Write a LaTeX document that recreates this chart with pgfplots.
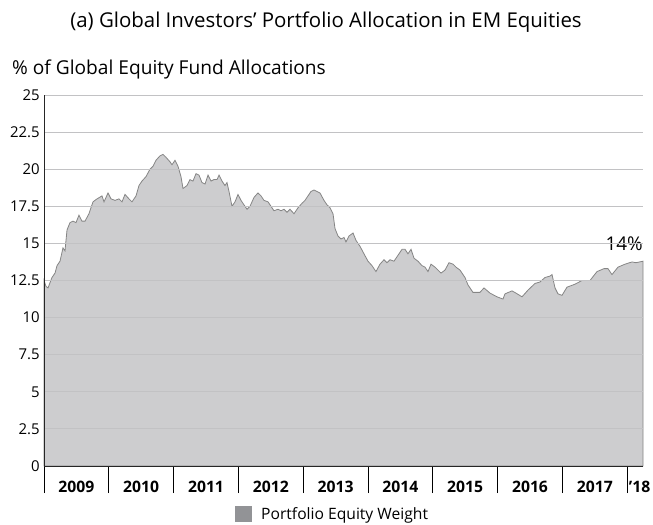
\documentclass[border=0pt]{standalone}
\usepackage{pgfplots}
\pgfplotsset{compat=1.18}
\usepackage{fontspec}
\setmainfont{Open Sans}
\definecolor{areafill}{HTML}{CDCDCF}
\definecolor{arealine}{HTML}{858585}
\definecolor{gridc}{HTML}{C2C2C4}
\definecolor{legfill}{HTML}{929396}
\begin{document}
\begin{tikzpicture}
\useasboundingbox (-44bp,-59bp) rectangle (609bp,466bp);
\node[anchor=base, inner sep=0pt, font=\fontsize{20.5}{24}\selectfont] at (282bp,438bp) {(a) Global Investors’ Portfolio Allocation in EM Equities};
\node[anchor=base west, inner sep=0pt, font=\fontsize{19.2}{22}\selectfont] at (-32bp,391bp) {\% of Global Equity Fund Allocations};
\begin{axis}[
  at={(0,0)}, anchor=south west,
  scale only axis, width=599bp, height=371bp,
  xmin=2009, xmax=2018.244, ymin=0, ymax=25,
  clip=false,
  axis x line*=bottom, axis y line*=left,
  axis line style={line width=1bp, black!85},
  ytick={0,2.5,5,7.5,10,12.5,15,17.5,20,22.5,25},
  yticklabels={0,2.5,5,7.5,10,12.5,15,17.5,20,22.5,25},
  ymajorgrids, grid style={gridc, line width=0.9bp},
  ytick style={draw=none},
  xtick={2009,2010,2011,2012,2013,2014,2015,2016,2017,2018},
  xticklabels={},
  tick align=outside,
  major tick length=27bp,
  xtick style={black, line width=0.9bp},
  yticklabel style={font=\fontsize{15}{17}\selectfont, xshift=26bp},
  /pgf/number format/assume math mode=true,
  axis on top,
  legend style={at={(0.482,-0.129)}, anchor=center, draw=none, fill=none,
    font=\fontsize{15.7}{18}\selectfont},
  legend cell align=left,
]
\addplot[draw=arealine, line width=0.8bp, fill=areafill,
  legend image code/.code={\fill[legfill] (0bp,-7.5bp) rectangle (15.5bp,7.5bp); \path (23bp,0bp);}]
  table {
x y
2009.000 12.5
2009.031 12.1
2009.062 12.0
2009.123 12.7
2009.170 13.0
2009.201 13.5
2009.247 13.8
2009.293 14.7
2009.324 14.5
2009.355 15.9
2009.401 16.4
2009.448 16.5
2009.494 16.4
2009.540 16.9
2009.586 16.5
2009.633 16.5
2009.694 17.0
2009.756 17.8
2009.818 18.0
2009.895 18.2
2009.926 17.8
2009.988 18.4
2010.034 18.0
2010.096 17.9
2010.157 18.0
2010.204 17.8
2010.250 18.3
2010.312 18.0
2010.358 17.8
2010.420 18.2
2010.466 18.9
2010.512 19.2
2010.574 19.5
2010.636 20.0
2010.682 20.2
2010.728 20.6
2010.790 20.9
2010.836 21.0
2010.883 20.8
2010.944 20.5
2010.975 20.3
2011.022 20.6
2011.068 20.2
2011.114 19.5
2011.145 18.7
2011.207 18.9
2011.253 19.3
2011.299 19.2
2011.346 19.7
2011.392 19.6
2011.438 19.1
2011.485 19.0
2011.531 19.6
2011.577 19.2
2011.623 19.3
2011.670 19.3
2011.701 19.6
2011.747 19.2
2011.793 18.9
2011.824 19.1
2011.855 18.5
2011.901 17.5
2011.948 17.8
2011.994 18.3
2012.040 17.9
2012.086 17.6
2012.133 17.3
2012.179 17.5
2012.241 18.1
2012.302 18.4
2012.349 18.2
2012.395 17.9
2012.457 17.8
2012.503 17.5
2012.549 17.2
2012.611 17.3
2012.657 17.2
2012.704 17.3
2012.750 17.1
2012.796 17.3
2012.858 17.0
2012.920 17.4
2012.981 17.7
2013.028 17.9
2013.074 18.2
2013.120 18.5
2013.167 18.6
2013.213 18.5
2013.259 18.4
2013.321 17.9
2013.367 17.6
2013.414 17.4
2013.460 17.0
2013.491 16.0
2013.537 15.5
2013.583 15.3
2013.630 15.4
2013.660 15.1
2013.707 15.5
2013.769 15.7
2013.815 15.2
2013.877 14.8
2013.938 14.3
2014.000 13.8
2014.062 13.5
2014.123 13.1
2014.185 13.6
2014.247 13.9
2014.293 13.7
2014.340 13.9
2014.401 13.8
2014.463 14.2
2014.525 14.6
2014.571 14.6
2014.617 14.3
2014.664 14.6
2014.710 14.0
2014.772 13.8
2014.833 13.5
2014.880 13.4
2014.926 13.1
2014.972 13.6
2015.034 13.4
2015.080 13.2
2015.127 13.0
2015.188 13.2
2015.250 13.7
2015.312 13.6
2015.358 13.4
2015.420 13.2
2015.497 12.7
2015.543 12.2
2015.620 11.7
2015.728 11.7
2015.790 12.0
2015.883 11.65
2015.991 11.4
2016.083 11.25
2016.114 11.6
2016.222 11.8
2016.284 11.65
2016.377 11.4
2016.469 11.85
2016.577 12.3
2016.654 12.4
2016.731 12.7
2016.809 12.8
2016.840 12.9
2016.886 12.0
2016.932 11.6
2016.994 11.5
2017.071 12.05
2017.194 12.25
2017.302 12.5
2017.426 12.5
2017.534 13.1
2017.642 13.3
2017.704 13.3
2017.765 12.9
2017.858 13.4
2017.966 13.6
2018.074 13.75
2018.136 13.7
2018.244 13.8
} \closedcycle;
\addlegendentry{Portfolio Equity Weight}
\node[anchor=base east, inner sep=0pt, font=\fontsize{19}{21}\selectfont] at (axis cs:2018.244,14.55) {14\%};
\pgfplotsinvokeforeach{2009,2010,2011,2012,2013,2014,2015,2016,2017}{
  \node[anchor=base, inner sep=0pt, font=\fontsize{15.8}{18}\selectfont\bfseries] at (axis cs:#1.5,0) [yshift=-26bp] {#1};
}
\node[anchor=base west, inner sep=0pt, font=\fontsize{15.8}{18}\selectfont\bfseries] at (axis cs:2018,0) [yshift=-26bp, xshift=1.5bp] {’18};
\end{axis}
\end{tikzpicture}
\end{document}
